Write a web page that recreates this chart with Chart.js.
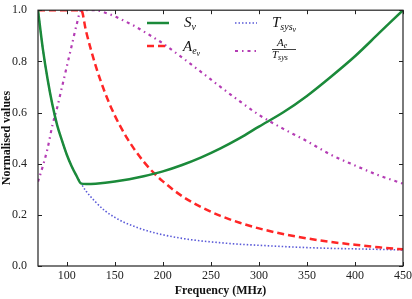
<!DOCTYPE html>
<html>
<head>
<meta charset="utf-8">
<script src="https://cdn.jsdelivr.net/npm/chart.js@4"></script>
<style>
  html, body { margin: 0; padding: 0; background: #fff; }
  #wrap { width: 412px; height: 299px; }
</style>
</head>
<body>
<div id="wrap"><canvas id="chart"></canvas></div>
<script>
// Frequency grid (MHz)
var freqs = [70, 75, 80, 85, 90, 95, 100, 105, 110, 115, 120, 130, 140, 150, 160, 170, 180, 190, 200,
             220, 240, 260, 280, 300, 325, 350, 375, 400, 425, 450];

// normalised curves
var sNu   = [1.0, 0.85, 0.73, 0.63, 0.55, 0.49, 0.435, 0.39, 0.353, 0.322, 0.321, 0.322, 0.325, 0.33, 0.336, 0.343, 0.351, 0.36, 0.37,
             0.395, 0.425, 0.46, 0.50, 0.545, 0.60, 0.665, 0.74, 0.82, 0.91, 1.0];
var aeNu  = [1.0, 1.0, 1.0, 1.0, 1.0, 1.0, 1.0, 1.0, 1.0, 1.0, 0.918, 0.783, 0.675, 0.588, 0.517, 0.458, 0.408, 0.366, 0.331,
             0.273, 0.230, 0.196, 0.169, 0.147, 0.125, 0.108, 0.094, 0.083, 0.073, 0.065];
var tsys  = [1.0, 0.85, 0.73, 0.63, 0.55, 0.49, 0.435, 0.39, 0.353, 0.322, 0.293, 0.25, 0.215, 0.19, 0.17, 0.155, 0.142, 0.131, 0.122,
             0.108, 0.098, 0.091, 0.085, 0.081, 0.076, 0.072, 0.069, 0.067, 0.065, 0.063];
var aeTsys = [0.33, 0.39, 0.46, 0.55, 0.62, 0.70, 0.78, 0.86, 0.94, 1.0, 1.0, 1.0, 0.99, 0.976, 0.958, 0.939, 0.917, 0.894, 0.87,
              0.815, 0.758, 0.70, 0.644, 0.591, 0.537, 0.488, 0.435, 0.393, 0.354, 0.322];

var xTicks = [100, 150, 200, 250, 300, 350, 400, 450];
var yTicks = [0, 0.2, 0.4, 0.6, 0.8, 1.0];

var GREEN = '#1b8a3a', RED = '#ff2626', BLUE = '#5a5ad8', PURPLE = '#b43cb4';
var SERIF = '"Liberation Serif", "DejaVu Serif", serif';

function pts(ys) {
    return freqs.map(function (f, i) { return { x: f, y: ys[i] }; });
}

// text with nested subscripts: parts = [[text, size, dy], ...]
function drawParts(c, x, y, parts) {
    parts.forEach(function (p) {
        c.font = 'italic ' + p[1] + 'px ' + SERIF;
        c.fillText(p[0], x, y + p[2]);
        x += c.measureText(p[0]).width;
    });
    return x;
}

// frame, inward ticks and math legend (matplotlib look)
var decor = {
    id: 'decor',
    afterDatasetsDraw: function (chart) {
        var c = chart.ctx, a = chart.chartArea;
        var xs = chart.scales.x, ys = chart.scales.y;
        c.save();
        c.strokeStyle = '#222';
        c.lineWidth = 1.2;
        c.strokeRect(a.left, a.top, a.right - a.left, a.bottom - a.top);
        c.lineWidth = 1;
        xTicks.forEach(function (v) {
            var px = Math.round(xs.getPixelForValue(v)) + 0.5;
            c.beginPath();
            c.moveTo(px, a.bottom); c.lineTo(px, a.bottom - 4);
            c.moveTo(px, a.top); c.lineTo(px, a.top + 4);
            c.stroke();
        });
        yTicks.forEach(function (v) {
            var py = Math.round(ys.getPixelForValue(v)) + 0.5;
            c.beginPath();
            c.moveTo(a.left, py); c.lineTo(a.left + 4, py);
            c.moveTo(a.right, py); c.lineTo(a.right - 4, py);
            c.stroke();
        });

        // legend samples
        function sample(x1, x2, y, col, w, dash) {
            c.beginPath();
            c.strokeStyle = col; c.lineWidth = w; c.setLineDash(dash);
            c.moveTo(x1, y); c.lineTo(x2, y); c.stroke();
        }
        sample(147, 169, 23, GREEN, 2.5, []);
        sample(147, 167, 46, RED, 2.5, [7, 4]);
        sample(235, 257, 23, BLUE, 1.6, [1.5, 2]);
        sample(235, 256, 51, PURPLE, 2.2, [3, 4, 1.5, 4]);
        c.setLineDash([]);

        c.fillStyle = '#111';
        c.textBaseline = 'alphabetic';
        c.textAlign = 'left';
        drawParts(c, 184, 27, [['S', 15, 0], ['ν', 10, 3]]);
        drawParts(c, 183, 51, [['A', 15, 0], ['e', 10, 3], ['ν', 8, 5]]);
        drawParts(c, 272, 27, [['T', 15, 0], ['sys', 10, 3], ['ν', 8, 5]]);
        // fraction A_e / T_sys
        drawParts(c, 277, 46, [['A', 11, 0], ['e', 8, 2]]);
        c.beginPath();
        c.strokeStyle = '#111'; c.lineWidth = 0.8;
        c.moveTo(272, 49.5); c.lineTo(296, 49.5); c.stroke();
        drawParts(c, 272, 58, [['T', 11, 0], ['sys', 8, 2]]);
        c.restore();
    }
};

new Chart(document.getElementById('chart'), {
    type: 'line',
    data: {
        datasets: [
            { label: 'S', data: pts(sNu), borderColor: GREEN, borderWidth: 2.5 },
            { label: 'Ae', data: pts(aeNu), borderColor: RED, borderWidth: 2.5, borderDash: [7, 4] },
            { label: 'Tsys', data: pts(tsys), borderColor: BLUE, borderWidth: 1.6, borderDash: [1.5, 2] },
            { label: 'Ae/Tsys', data: pts(aeTsys), borderColor: PURPLE, borderWidth: 2.2, borderDash: [3, 4, 1.5, 4] }
        ]
    },
    options: {
        responsive: true,
        maintainAspectRatio: false,
        animation: false,
        layout: { padding: { top: 4, right: 9, left: 0, bottom: 0 } },
        elements: {
            point: { radius: 0 },
            line: { cubicInterpolationMode: 'monotone', fill: false }
        },
        plugins: { legend: { display: false }, tooltip: { enabled: false } },
        scales: {
            x: {
                type: 'linear', min: 70, max: 450,
                afterBuildTicks: function (s) { s.ticks = xTicks.map(function (v) { return { value: v }; }); },
                afterFit: function (s) { s.height = 33; },
                grid: { display: false },
                border: { display: false },
                ticks: { color: '#222', font: { family: SERIF, size: 12 }, padding: -5, maxRotation: 0 },
                title: { display: true, text: 'Frequency (MHz)', color: '#111',
                         font: { family: SERIF, size: 12, weight: 'bold' }, padding: { top: 0, bottom: 1 } }
            },
            y: {
                min: 0, max: 1,
                afterBuildTicks: function (s) { s.ticks = yTicks.map(function (v) { return { value: v }; }); },
                afterFit: function (s) { s.width = 38; },
                grid: { display: false },
                border: { display: false },
                ticks: { color: '#222', font: { family: SERIF, size: 12 }, padding: 3,
                         callback: function (v) { return Number(v).toFixed(1); } },
                title: { display: true, text: 'Normalised values', color: '#111',
                         font: { family: SERIF, size: 12, weight: 'bold' }, padding: { top: 0, bottom: 0 } }
            }
        }
    },
    plugins: [decor]
});
</script>
</body>
</html>
